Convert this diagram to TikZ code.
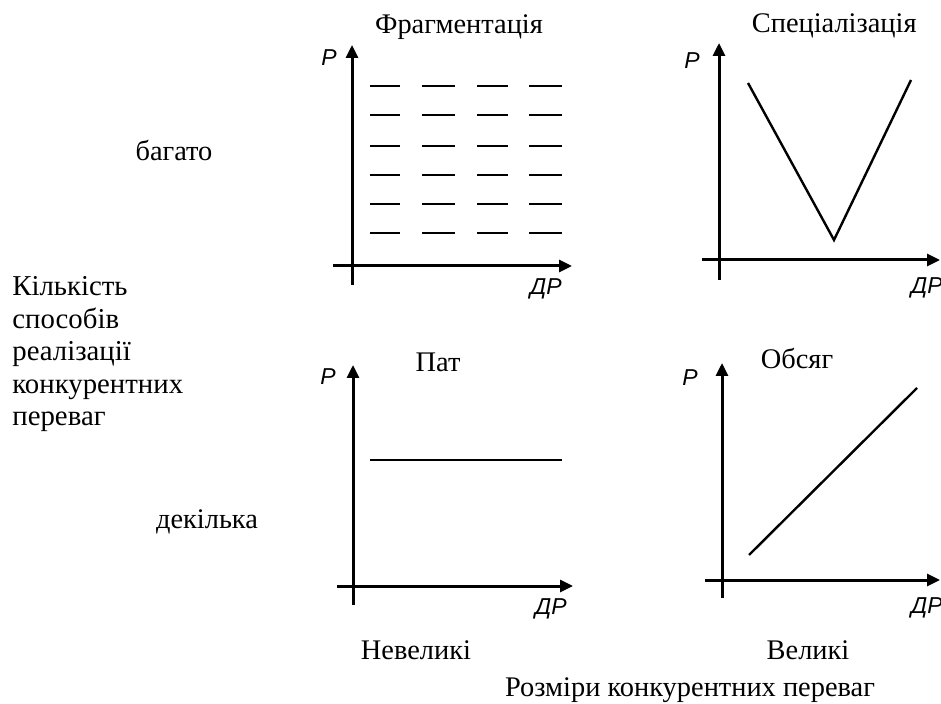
\documentclass[tikz,border=0pt]{standalone}
\usepackage{fontspec}
\setmainfont{Liberation Serif}
\newfontfamily\axisfont{Liberation Sans}
\usetikzlibrary{arrows.meta}
\tikzset{
  axis/.style={line width=1.5pt,-{Triangle[length=6.5pt,width=6pt]}},
  curve/.style={line width=1.2pt},
  axlabel/.style={font=\axisfont\itshape\fontsize{11.5}{13}\selectfont,inner sep=0pt},
  txt/.style={font=\fontsize{14.2}{16}\selectfont,inner sep=0pt}
}
\begin{document}
\begin{tikzpicture}[x=0.5pt,y=-0.5pt]
    \useasboundingbox (0,0) rectangle (941,704);
    % top left: fragmentation
    \draw[axis] (352,285)--(352,45);
    \draw[axis] (333,266)--(572,266);
    \node[axlabel] (p1) at (329,58) {P};
    \node[axlabel] (dp1) at (546,289) {ДР};
    \node[txt] (t1) at (459,27) {Фрагментація};
    \foreach \y in {86,115,146,175,204,233}
      \foreach \xa/\xb in {370/400,422/455,477/508,529/562}
        \draw[line width=1.4pt] (\xa,\y)--(\xb,\y);
    % top right: specialisation
    \draw[axis] (719,280)--(719,43);
    \draw[axis] (702,260)--(940,260);
    \node[axlabel] (p2) at (692,61) {P};
    \node[axlabel] (dp2) at (927,288) {ДР};
    \node[txt,anchor=east] (t2) at (917,26) {Спеціалізація};
    \draw[curve] (748,83)--(834,240)--(911,80);
    % bottom left: stalemate
    \draw[axis] (353,605)--(353,365);
    \draw[axis] (337,586)--(573,586);
    \node[axlabel] (p3) at (328,377) {P};
    \node[axlabel] (dp3) at (551,609) {ДР};
    \node[txt] (t3) at (438,362) {Пат};
    \draw[curve] (370,460)--(562,460);
    % bottom right: volume
    \draw[axis] (722,598)--(722,363);
    \draw[axis] (705,580)--(940,580);
    \node[axlabel] (p4) at (690,378) {P};
    \node[axlabel] (dp4) at (927,608) {ДР};
    \node[txt] (t4) at (797,358) {Обсяг};
    \draw[curve] (749,555)--(917,388);
    % labels
    \node[txt] (many) at (174,150) {багато};
    \node[txt] (few) at (207,522) {декілька};
    \node[txt,align=left,anchor=north west,font=\fontsize{14.4}{16.3}\selectfont] (ways) at (12,276)
      {Кількість\\способів\\реалізації\\конкурентних\\переваг};
    \node[txt] (small) at (416,650) {Невеликі};
    \node[txt] (large) at (808,650) {Великі};
    \node[txt] (size) at (690,690) {Розміри конкурентних переваг};
\end{tikzpicture}
\end{document}
